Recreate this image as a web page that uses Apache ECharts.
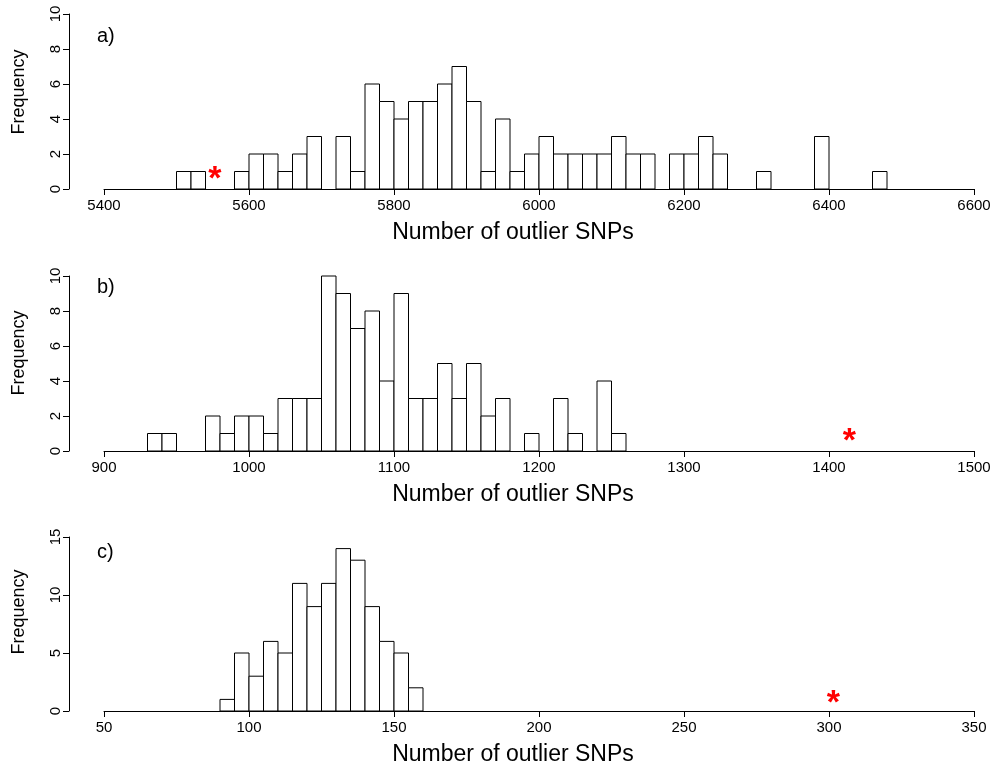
<!DOCTYPE html>
<html>
<head>
<meta charset="utf-8">
<script src="https://cdn.jsdelivr.net/npm/echarts@6/dist/echarts.min.js"></script>
<style>
html,body{margin:0;padding:0;background:#fff;}
#chart{width:996px;height:769px;}
</style>
</head>
<body>
<div id="chart"></div>
<script>
// ---- data ----
const binStartA = 5500, binWidthA = 20;
const countsA = [1,1,0,0,1, 2,2,1,2,3, 0,3,1,6,5, 4,5,5,6,7, 5,1,4,1,2, 3,2,2,2,2, 3,2,2,0,2, 2,3,2,0,0, 1,0,0,0,3, 0,0,0,1];
const binStartB = 930, binWidthB = 10;
const countsB = [1,1,0,0,2,1,2,2,1,3,3,3,10,9,7,8,4,9,3,3,5,3,5,2,3,0,1,0,3,1,0,4,1];
const binStartC = 90, binWidthC = 5;
const countsC = [1,5,3,6,5,11,9,11,14,13,9,6,5,2];
const starA = [5553, 0.8];
const starB = [1414, 0.82];
const starC = [301.5, 1.03];
const xTicksA = {min: 5400, max: 6600, interval: 200};
const xTicksB = {min: 900, max: 1500, interval: 100};
const xTicksC = {min: 50, max: 350, interval: 50};
const yTicksA = {min: 0, max: 10, interval: 2};
const yTicksB = {min: 0, max: 10, interval: 2};
const yTicksC = {min: 0, max: 15, interval: 5};
const panelLabels = ['a)', 'b)', 'c)'];
const xTitle = 'Number of outlier SNPs';
const yTitle = 'Frequency';

const FONT = '"Liberation Sans", Helvetica, Arial, sans-serif';

function bins(start, width, counts) {
  const out = [];
  counts.forEach((c, i) => {
    if (c > 0) out.push([start + i * width, start + (i + 1) * width, c]);
  });
  return out;
}

const grids = [
  {left: 104, right: 22, top: 14, height: 175},
  {left: 104, right: 22, top: 276, height: 175},
  {left: 104, right: 22, top: 537, height: 174}
];

function xAxisOf(idx, t) {
  return {
    type: 'value', gridIndex: idx, min: t.min, max: t.max, interval: t.interval,
    axisLine: {show: true, lineStyle: {color: '#000', width: 1}},
    axisTick: {show: true, length: 6, lineStyle: {color: '#000'}},
    axisLabel: {show: true, fontSize: 15, color: '#000', fontFamily: FONT, margin: 9,
      formatter: function (v) { return String(v); }},
    splitLine: {show: false}
  };
}
function yAxisOf(idx, t) {
  return {
    type: 'value', gridIndex: idx, min: t.min, max: t.max, interval: t.interval,
    offset: 35,
    axisLine: {show: true, lineStyle: {color: '#000', width: 1}},
    axisTick: {show: true, length: 6, lineStyle: {color: '#000'}},
    axisLabel: {show: true, fontSize: 15, color: '#000', fontFamily: FONT, rotate: 90, margin: 6,
      formatter: function (v) { return String(v); }},
    splitLine: {show: false}
  };
}

function histSeries(idx, data) {
  return {
    type: 'custom', xAxisIndex: idx, yAxisIndex: idx, data: data, silent: true,
    renderItem: function (params, api) {
      const p0 = api.coord([api.value(0), 0]);
      const p1 = api.coord([api.value(1), api.value(2)]);
      return {
        type: 'rect',
        shape: {x: p0[0], y: p1[1], width: p1[0] - p0[0], height: p0[1] - p1[1]},
        style: {fill: '#fff', stroke: '#000', lineWidth: 1}
      };
    }
  };
}
function starSeries(idx, pt) {
  return {
    type: 'custom', xAxisIndex: idx, yAxisIndex: idx, data: [pt], silent: true, z: 5,
    renderItem: function (params, api) {
      const p = api.coord([api.value(0), api.value(1)]);
      return {
        type: 'text',
        style: {
          text: '*', x: p[0], y: p[1] + 5, fill: '#ff0000',
          font: 'bold 34px ' + FONT, textAlign: 'center', textVerticalAlign: 'middle'
        }
      };
    }
  };
}

const titleY = [233, 495, 755];
const freqY = [92, 353, 612];
const labY = [36, 287, 552];
const graphics = [];
for (let i = 0; i < 3; i++) {
  graphics.push({type: 'text', x: 513, y: titleY[i],
    style: {text: xTitle, font: '23px ' + FONT, fill: '#000', textAlign: 'center', textVerticalAlign: 'middle'}});
  graphics.push({type: 'text', x: 19, y: freqY[i], rotation: Math.PI / 2,
    style: {text: yTitle, font: '18px ' + FONT, fill: '#000', textAlign: 'center', textVerticalAlign: 'middle'}});
  graphics.push({type: 'text', x: 97, y: labY[i],
    style: {text: panelLabels[i], font: '20px ' + FONT, fill: '#000', textAlign: 'left', textVerticalAlign: 'middle'}});
}

const chart = echarts.init(document.getElementById('chart'), null, {renderer: 'canvas'});
chart.setOption({
  backgroundColor: '#fff',
  animation: false,
  grid: grids,
  xAxis: [xAxisOf(0, xTicksA), xAxisOf(1, xTicksB), xAxisOf(2, xTicksC)],
  yAxis: [yAxisOf(0, yTicksA), yAxisOf(1, yTicksB), yAxisOf(2, yTicksC)],
  series: [
    histSeries(0, bins(binStartA, binWidthA, countsA)),
    histSeries(1, bins(binStartB, binWidthB, countsB)),
    histSeries(2, bins(binStartC, binWidthC, countsC)),
    starSeries(0, starA), starSeries(1, starB), starSeries(2, starC)
  ],
  graphic: graphics
});
</script>
</body>
</html>
